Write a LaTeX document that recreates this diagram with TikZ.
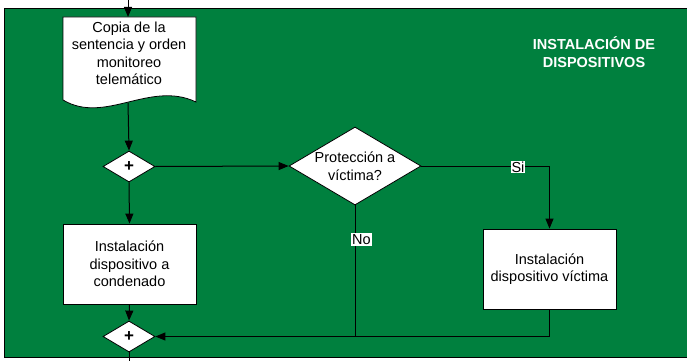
\documentclass[tikz,border=0pt]{standalone}
\usepackage{fontspec}
\setmainfont{Liberation Sans}
\usetikzlibrary{arrows.meta,shapes.geometric}
\definecolor{bggreen}{RGB}{0,128,62}
\tikzset{
  txt/.style={font=\fontsize{14.5}{17.5}\selectfont, align=center, inner sep=0pt},
  procbox/.style={draw=black, fill=white, line width=0.8pt, minimum width=133pt, minimum height=80pt, inner sep=0pt, align=center, font=\fontsize{14.5}{17.5}\selectfont},
  mergedia/.style={diamond, draw=black, fill=white, line width=0.8pt, minimum width=52pt, minimum height=31pt, inner sep=0pt, font=\fontsize{17}{17}\selectfont\bfseries},
  decdia/.style={diamond, draw=black, fill=white, line width=0.8pt, minimum width=132pt, minimum height=78pt, inner sep=0pt},
  conn/.style={draw=black, line width=1pt},
  arr/.style={conn, -{Triangle[width=8pt,length=10pt]}},
  branchlbl/.style={fill=white, text=black, inner sep=1pt, font=\fontsize{14.5}{17.5}\selectfont},
}
\begin{document}
\begin{tikzpicture}[x=1pt,y=-1pt]
\useasboundingbox (0,0) rectangle (687,361);
% background panel
\fill[bggreen] (4,9) rectangle (690,357);
\draw[black, line width=1pt] (690,9) -- (4,9) -- (4,357) -- (690,357);
% title
\node[txt, text=white, font=\fontsize{14.5}{18}\selectfont\bfseries] (title) at (594,52) {INSTALACIÓN DE\\DISPOSITIVOS};
% document shape
\filldraw[fill=white, draw=black, line width=0.8pt] (63,17) -- (196,17) -- (196,102) .. controls (150,80) and (105,125) .. (63,100) -- cycle;
\coordinate (doctop) at (128,17);
\coordinate (docbot) at (128,103);
\coordinate (top) at (128,0);
\node[txt] (doc) at (129,53.5) {Copia de la\\sentencia y orden\\monitoreo\\telemático};
% merge diamonds
\node[mergedia] (m1) at (129,166.5) {+};
\node[mergedia] (m2) at (129,336.5) {+};
\coordinate (bottom) at (129,361);
% decision
\node[decdia] (dec) at (355,166) {};
\node[txt] (dectxt) at (355,166) {Protección a\\víctima?};
% process boxes
\node[procbox] (boxA) at (129.5,264) {Instalación\\dispositivo a\\condenado};
\node[procbox] (boxV) at (549.5,269) {Instalación\\dispositivo víctima};
\coordinate (join) at (355,336.5);
% connectors
\draw[arr] (top) -- (doctop);
\draw[arr] (docbot) -- (m1.north);
\draw[arr] (m1.east) -- (dec.west);
\draw[arr] (m1.south) -- (boxA.north);
\draw[arr] (boxA.south) -- (m2.north);
\draw[arr] (dec.east) -| (boxV.north);
\draw[arr] (boxV.south) |- (m2.east);
\draw[conn] (dec.south) -- (join);
\draw[conn] (m2.south) -- (bottom);
% branch labels
\node[branchlbl] (si) at (518,167) {Si};
\node[branchlbl, anchor=west] (no) at (351,239.5) {No};
\end{tikzpicture}
\end{document}
